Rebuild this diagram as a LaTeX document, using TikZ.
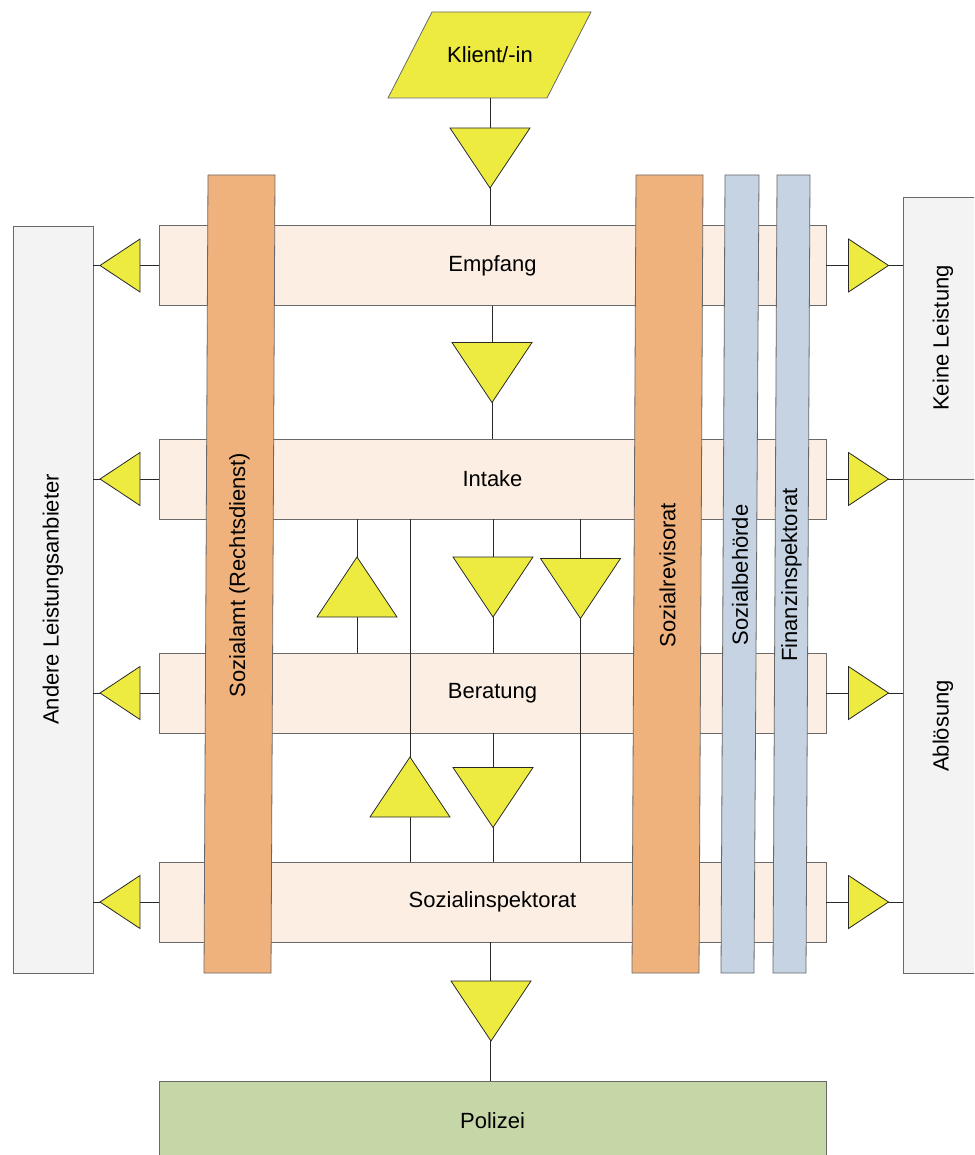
\documentclass[tikz,border=0pt]{standalone}
\usepackage{fontspec}
\setmainfont{Liberation Sans}
\definecolor{triyellow}{RGB}{237,234,64}
\definecolor{rowfill}{RGB}{252,238,226}
\definecolor{orangebar}{RGB}{240,178,124}
\definecolor{bluebar}{RGB}{197,211,226}
\definecolor{sidefill}{RGB}{242,243,242}
\definecolor{greenfill}{RGB}{197,215,167}
\definecolor{boxline}{RGB}{105,105,105}
\definecolor{lineclr}{RGB}{40,40,40}
\begin{document}
\begin{tikzpicture}[x=1pt,y=-1pt,
  lbl/.style={font=\fontsize{22}{26}\selectfont, text=black},
  rowbox/.style={draw=boxline, fill=rowfill, line width=0.8pt, minimum width=667pt, minimum height=80pt, inner sep=0pt, lbl},
  sidebox/.style={draw=boxline, fill=sidefill, line width=0.8pt, minimum width=80pt, inner sep=0pt},
  conn/.style={draw=lineclr, line width=0.9pt},
  trimark/.style={fill=triyellow, draw=lineclr, line width=0.8pt, line join=miter},
  barshape/.style={draw=boxline, line width=0.8pt},
  tridown/.pic={\path[trimark] (-40,-30) -- (40,-30) -- (0,30) -- cycle;},
  triup/.pic={\path[trimark] (-40,30) -- (40,30) -- (0,-30) -- cycle;},
  trileft/.pic={\path[trimark] (-20,0) -- (20,-26.5) -- (20,26.5) -- cycle;},
  triright/.pic={\path[trimark] (20,0) -- (-20,-26.5) -- (-20,26.5) -- cycle;}
]
\useasboundingbox (0,0) rectangle (974,1155);
\clip (0,0) rectangle (974,1155);

% x positions of the vertical connectors
\coordinate (xa) at (357,0);
\coordinate (xb) at (410,0);
\coordinate (xc) at (493,0);
\coordinate (xd) at (580,0);
\coordinate (xm) at (490,0);
\coordinate (xe) at (492,0);

% start node
\path[trimark, draw=boxline] (432,12) -- (591,12) -- (547,98) -- (388,98) -- cycle;
\node[lbl, minimum width=115pt, minimum height=86pt, inner sep=0pt] (klient) at (490,55) {Klient/-in};

% rows
\node[rowbox] (empfang) at (492.5,265.5) {Empfang};
\node[rowbox] (intake) at (492.5,479) {Intake};
\node[rowbox] (beratung) at (492.5,693) {Beratung};
\node[rowbox] (sozial) at (492.5,902) {Sozialinspektorat};
\node[draw=boxline, fill=greenfill, line width=0.8pt, minimum width=667pt, minimum height=80pt, inner sep=0pt, lbl] (polizei) at (492.5,1121) {Polizei};

% side boxes
\node[sidebox, minimum height=747pt] (andere) at (53,599.5) {};
\node[lbl, rotate=90] at (andere.center) {Andere Leistungsanbieter};
\node[sidebox, minimum height=282pt] (keine) at (943,338) {};
\node[lbl, rotate=90] at (keine.center) {Keine Leistung};
\node[sidebox, minimum height=494pt] (abloesung) at (943,726) {};
\node[lbl, rotate=90] at (abloesung.center) {Ablösung};

% main vertical connectors
\draw[conn] (klient.south) -- (empfang.north -| klient.south);
\draw[conn] (empfang.south -| xe) -- (intake.north -| xe);
\draw[conn] (intake.south -| xa) -- (beratung.north -| xa);
\draw[conn] (intake.south -| xb) -- (sozial.north -| xb);
\draw[conn] (intake.south -| xc) -- (beratung.north -| xc);
\draw[conn] (intake.south -| xd) -- (sozial.north -| xd);
\draw[conn] (beratung.south -| xc) -- (sozial.north -| xc);
\draw[conn] (sozial.south -| xm) -- (polizei.north -| xm);

% side connectors
\foreach \r in {empfang,intake,beratung,sozial}{
  \draw[conn] (\r.west) -- (\r.west -| andere.east);
}
\draw[conn] (empfang.east) -- (empfang.east -| keine.west);
\draw[conn] (intake.east) -- (intake.east -| keine.west);
\draw[conn] (beratung.east) -- (beratung.east -| abloesung.west);
\draw[conn] (sozial.east) -- (sozial.east -| abloesung.west);

% triangle markers
\pic at (490,158) {tridown};
\pic at (492,372.5) {tridown};
\pic at (357,587) {triup};
\pic at (493,587) {tridown};
\pic at (580.5,588.5) {tridown};
\pic at (410,787) {triup};
\pic at (493,797.5) {tridown};
\pic at (491,1011) {tridown};
\foreach \y in {265.5,479,693,902}{
  \pic at (120,\y) {trileft};
  \pic at (868.5,\y) {triright};
}

% vertical bars
\path[barshape, fill=orangebar] (208,175) -- (275,175) -- (271,973) -- (204,973) -- cycle;
\node[lbl, rotate=90] (sozialamt) at (239.5,575) {Sozialamt (Rechtsdienst)};
\path[barshape, fill=orangebar] (636,175) -- (703,175) -- (699,973) -- (632,973) -- cycle;
\node[lbl, rotate=90] (revisorat) at (667.5,575) {Sozialrevisorat};
\path[barshape, fill=bluebar] (725,175) -- (759,175) -- (754,973) -- (721,973) -- cycle;
\node[lbl, rotate=90] (behoerde) at (740,575) {Sozialbehörde};
\path[barshape, fill=bluebar] (777,175) -- (810,175) -- (806,973) -- (773,973) -- cycle;
\node[lbl, rotate=90] (finanz) at (791.5,575) {Finanzinspektorat};
\end{tikzpicture}
\end{document}
